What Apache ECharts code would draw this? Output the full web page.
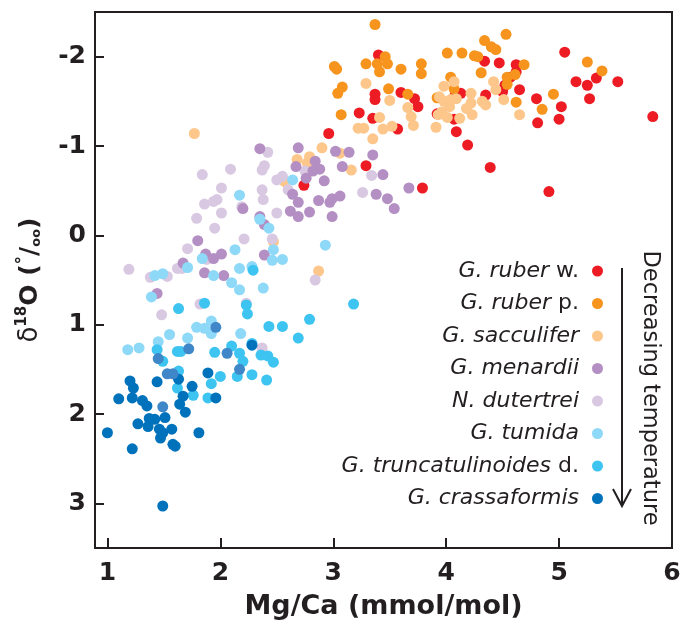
<!DOCTYPE html>
<html>
<head>
<meta charset="utf-8">
<script src="https://cdn.jsdelivr.net/npm/echarts@6/dist/echarts.min.js"></script>
<style>
  html, body { margin: 0; padding: 0; background: #fff; }
  #chart { width: 681px; height: 622px; }
</style>
</head>
<body>
<div id="chart"></div>
<script>
// Axis ticks
const xTicks = [1, 2, 3, 4, 5, 6];
const yTicks = [-2, -1, 0, 1, 2, 3];

// Mg/Ca (mmol/mol), d18O (permil) pairs per species
const ruberW = [
  [2.74,-0.56],[2.96,-1.14],[3.23,-1.37],[3.29,-0.78],[3.35,-1.31],[3.37,-1.58],[3.37,-1.52],
  [3.40,-2.02],[3.57,-1.19],[3.60,-1.60],[3.72,-1.53],[3.75,-1.44],[3.79,-0.53],[3.92,-1.36],
  [4.07,-1.30],[4.08,-1.57],[4.09,-1.16],[4.13,-1.59],[4.19,-1.01],[4.34,-1.95],[4.35,-1.57],
  [4.39,-0.76],[4.47,-1.93],[4.50,-1.61],[4.52,-1.68],[4.57,-1.77],[4.62,-1.91],[4.62,-1.83],
  [4.65,-1.63],[4.80,-1.53],[4.81,-1.26],[4.91,-0.49],[5.00,-1.30],[5.02,-1.44],[5.05,-2.05],
  [5.15,-1.72],[5.25,-1.68],[5.27,-1.53],[5.33,-1.76],[5.52,-1.72],[5.83,-1.33]
];
const ruberP = [
  [3.01,-1.89],[3.03,-1.86],[3.04,-1.59],[3.07,-1.35],[3.08,-1.66],[3.29,-1.92],[3.37,-2.36],
  [3.39,-1.92],[3.41,-1.83],[3.46,-2.00],[3.48,-1.92],[3.49,-1.64],[3.60,-1.86],[3.66,-1.58],
  [3.78,-1.92],[3.78,-1.81],[3.92,-1.54],[4.01,-2.04],[4.04,-1.77],[4.07,-1.64],[4.14,-2.04],
  [4.25,-2.01],[4.28,-2.00],[4.31,-1.82],[4.34,-2.18],[4.40,-2.11],[4.44,-2.08],[4.53,-2.25],
  [4.54,-1.77],[4.54,-1.69],[4.61,-1.80],[4.62,-1.49],[4.69,-1.91],[4.85,-1.41],[4.95,-1.58],
  [5.25,-1.94],[5.38,-1.84]
];
const sacculifer = [
  [1.77,-1.14],[2.47,0.07],[2.57,-0.60],[2.68,-0.85],[2.77,-0.81],[2.79,-0.88],[2.87,0.40],
  [2.90,-0.98],[3.06,-0.92],[3.16,-0.73],[3.22,-1.20],[3.27,-1.20],[3.29,-1.70],[3.35,-1.08],
  [3.41,-1.32],[3.44,-1.19],[3.50,-1.51],[3.52,-1.22],[3.66,-1.43],[3.69,-1.33],[3.71,-1.23],
  [3.91,-1.21],[3.93,-1.35],[3.94,-1.55],[3.96,-1.38],[3.98,-1.67],[3.98,-1.50],[4.01,-1.32],
  [4.03,-1.44],[4.04,-1.52],[4.07,-1.72],[4.09,-1.53],[4.12,-1.31],[4.18,-1.42],[4.22,-1.59],
  [4.22,-1.48],[4.23,-1.35],[4.32,-1.50],[4.35,-1.46],[4.42,-1.72],[4.44,-1.63],[4.51,-1.52],
  [4.65,-1.35]
];
const menardii = [
  [1.44,0.65],[1.67,0.31],[1.80,0.06],[1.86,0.42],[1.87,0.21],[1.94,0.26],[2.01,0.21],
  [2.03,0.45],[2.20,-0.30],[2.35,-0.97],[2.35,-0.21],[2.39,-0.12],[2.39,0.22],[2.62,-0.27],
  [2.64,-0.46],[2.67,-0.77],[2.69,-0.98],[2.69,-0.37],[2.69,-0.21],[2.76,-0.64],[2.79,-0.26],
  [2.82,-0.72],[2.84,-0.83],[2.87,-0.39],[2.88,-0.74],[2.92,-0.61],[2.97,-0.37],[2.99,-0.21],
  [2.99,-0.41],[3.02,-0.94],[3.06,-0.44],[3.08,-0.77],[3.14,-0.93],[3.35,-0.90],[3.38,-0.46],
  [3.44,-0.68],[3.48,-0.41],[3.54,-0.30],[3.67,-0.53]
];
const dutertrei = [
  [1.19,0.38],[1.38,0.47],[1.48,0.89],[1.53,0.46],[1.62,0.37],[1.66,0.37],[1.71,0.15],
  [1.79,-0.19],[1.82,0.77],[1.84,-0.68],[1.86,-0.35],[1.88,0.27],[1.94,-0.38],[1.97,-0.40],
  [1.95,-0.08],[2.01,-0.53],[2.01,-0.25],[2.09,-0.74],[2.19,-0.32],[2.21,0.04],[2.23,0.76],
  [2.37,-0.51],[2.38,-0.40],[2.37,-0.73],[2.39,-0.78],[2.42,-0.93],[2.37,1.26],[2.46,0.04],
  [2.50,-0.62],[2.55,-0.66],[2.50,-0.25],[2.60,-0.51],[2.75,-0.72],[2.84,0.50],[3.26,-0.48],
  [3.34,-0.67]
];
const tumida = [
  [1.18,1.28],[1.28,1.26],[1.39,0.69],[1.42,0.45],[1.49,0.43],[1.45,1.19],[1.55,1.11],
  [1.71,0.36],[1.71,1.15],[1.79,1.03],[1.84,0.26],[1.86,1.04],[1.92,0.96],[1.92,1.10],
  [1.94,0.45],[2.10,0.53],[2.13,0.16],[2.17,-0.45],[2.17,0.37],[2.17,0.61],[2.18,1.10],
  [2.28,0.35],[2.35,-0.18],[2.38,0.59],[2.43,-0.08],[2.46,0.28],[2.47,0.16],[2.55,0.27],
  [2.64,-0.62],[2.93,0.11]
];
const truncatulinoides = [
  [1.44,1.28],[1.49,1.41],[1.62,1.30],[1.65,1.30],[1.63,0.82],[1.63,1.52],[1.62,1.71],
  [1.76,1.79],[1.86,0.76],[1.89,1.82],[1.92,1.66],[1.95,1.31],[2.00,1.58],[2.10,1.24],
  [2.15,1.58],[2.17,1.32],[2.20,1.41],[2.23,0.78],[2.24,0.88],[2.28,1.21],[2.28,1.56],
  [2.29,0.39],[2.36,1.34],[2.41,1.62],[2.42,1.35],[2.43,1.02],[2.47,1.42],[2.55,1.02],
  [2.69,1.15],[2.79,0.94],[3.18,0.77]
];
const crassaformis = [
  [1.00,2.21],[1.10,1.83],[1.20,1.63],[1.23,1.71],[1.22,1.82],[1.31,1.85],[1.35,1.91],
  [1.27,2.11],[1.22,2.39],[1.37,2.05],[1.42,2.06],[1.36,2.14],[1.51,2.04],[1.46,2.17],
  [1.49,2.21],[1.47,2.27],[1.57,2.17],[1.58,2.34],[1.60,2.36],[1.44,1.64],[1.63,1.61],
  [1.75,1.69],[1.67,1.80],[1.64,1.89],[1.69,1.98],[1.81,2.21],[1.89,1.54],[1.96,1.82],
  [2.28,1.23],[1.49,3.03]
];
// G. crassaformis samples shown in a lighter blue
const crassaformisLight = [
  [1.45,1.38],[1.53,1.55],[1.58,1.55],[1.72,1.27],[1.96,1.03],[2.06,1.32],[2.17,1.50],[1.49,1.92]
];

// Legend entries: italic genus/species part plus plain suffix
const speciesNames = [
  'G. ruber w.', 'G. ruber p.', 'G. sacculifer', 'G. menardii',
  'N. dutertrei', 'G. tumida', 'G. truncatulinoides d.', 'G. crassaformis'
];
const italicPart = [
  'G. ruber', 'G. ruber', 'G. sacculifer', 'G. menardii',
  'N. dutertrei', 'G. tumida', 'G. truncatulinoides', 'G. crassaformis'
];
const plainPart = [' w.', ' p.', '', '', '', '', ' d.', ''];

const colors = {
  ruberW: '#ed1c24', ruberP: '#f7941d', sacculifer: '#fdc68a', menardii: '#b48fc3',
  dutertrei: '#d9c8e1', tumida: '#8ed8f8', truncatulinoides: '#3ec4f1',
  crassaformis: '#0072bc', crassaformisLight: '#3f87c8'
};

const ink = '#231f20';
const font = 'DejaVu Sans';

function scatter(name, data, color) {
  return {
    type: 'scatter', name: name, data: data,
    symbol: 'circle', symbolSize: 11,
    itemStyle: { color: color, opacity: 1 },
    emphasis: { disabled: true },
    silent: true
  };
}

const chart = echarts.init(document.getElementById('chart'), null, { renderer: 'canvas' });

chart.setOption({
  animation: false,
  backgroundColor: '#ffffff',
  grid: {
    left: 95, right: 9, top: 12, bottom: 74,
    show: true, borderColor: ink, borderWidth: 2,
    containLabel: false, outerBoundsMode: 'none'
  },
  xAxis: {
    type: 'value', min: 0.89, max: 6,
    name: 'Mg/Ca (mmol/mol)', nameLocation: 'middle', nameGap: 45,
    nameTextStyle: { fontFamily: font, fontWeight: 'bold', fontSize: 27, color: ink },
    axisLine: { show: false, onZero: false },
    axisTick: { show: true, inside: true, length: 10, lineStyle: { color: ink, width: 2 },
                customValues: xTicks.slice(0, 5) },
    axisLabel: { show: true, margin: 13, fontFamily: font, fontWeight: 'bold', fontSize: 25,
                 color: ink, customValues: xTicks },
    splitLine: { show: false }
  },
  yAxis: {
    type: 'value', min: -2.5, max: 3.5, inverse: true,
    name: '{d|δ}{s|18}{b|O (}{g|°}{b|/}{o|oo}{b|)}',
    nameLocation: 'middle', nameGap: 52, nameRotate: 90,
    nameTextStyle: {
      color: ink,
      rich: {
        d: { fontFamily: font, fontSize: 26, color: ink, verticalAlign: 'bottom', lineHeight: 28 },
        s: { fontFamily: font, fontWeight: 'bold', fontSize: 15, color: ink, verticalAlign: 'top', lineHeight: 28 },
        b: { fontFamily: font, fontWeight: 'bold', fontSize: 25, color: ink, verticalAlign: 'bottom', lineHeight: 28 },
        g: { fontFamily: font, fontWeight: 'bold', fontSize: 17, color: ink, verticalAlign: 'top', lineHeight: 28 },
        o: { fontFamily: font, fontWeight: 'bold', fontSize: 13, color: ink, verticalAlign: 'bottom', lineHeight: 24 }
      }
    },
    axisLine: { show: false, onZero: false },
    axisTick: { show: true, inside: true, length: 9, lineStyle: { color: ink, width: 2 },
                customValues: yTicks },
    axisLabel: { show: true, margin: 9, fontFamily: font, fontWeight: 'bold', fontSize: 25,
                 color: ink, customValues: yTicks },
    splitLine: { show: false }
  },
  legend: {
    data: speciesNames,
    orient: 'vertical', align: 'right',
    right: 73, top: 255,
    icon: 'circle', itemWidth: 11, itemHeight: 11, itemGap: 10.5,
    selectedMode: false,
    formatter: function (name) {
      const i = speciesNames.indexOf(name);
      return '{i|' + italicPart[i] + '}' + (plainPart[i] ? '{n|' + plainPart[i] + '}' : '');
    },
    textStyle: {
      fontFamily: font, fontSize: 22, color: ink, padding: [0, 8, 0, 0],
      rich: {
        i: { fontFamily: font, fontSize: 22, fontStyle: 'italic', color: ink, lineHeight: 24 },
        n: { fontFamily: font, fontSize: 22, color: ink, lineHeight: 24 }
      }
    }
  },
  graphic: [
    {
      type: 'line', silent: true,
      shape: { x1: 622, y1: 268, x2: 622, y2: 506 },
      style: { stroke: ink, lineWidth: 2 }
    },
    {
      type: 'polyline', silent: true,
      shape: { points: [[613, 489], [622, 506], [631, 489]] },
      style: { stroke: ink, lineWidth: 2, fill: null }
    },
    {
      type: 'text', silent: true,
      x: 650, y: 388, rotation: -Math.PI / 2,
      style: {
        text: 'Decreasing temperature', fontFamily: font, fontSize: 22.5,
        fill: ink, align: 'center', verticalAlign: 'middle'
      }
    }
  ],
  series: [
    scatter(speciesNames[0], ruberW, colors.ruberW),
    scatter(speciesNames[1], ruberP, colors.ruberP),
    scatter(speciesNames[2], sacculifer, colors.sacculifer),
    scatter(speciesNames[4], dutertrei, colors.dutertrei),
    scatter(speciesNames[3], menardii, colors.menardii),
    scatter(speciesNames[5], tumida, colors.tumida),
    scatter(speciesNames[6], truncatulinoides, colors.truncatulinoides),
    scatter(speciesNames[7], crassaformis, colors.crassaformis),
    scatter(speciesNames[7], crassaformisLight, colors.crassaformisLight)
  ]
});
</script>
</body>
</html>
